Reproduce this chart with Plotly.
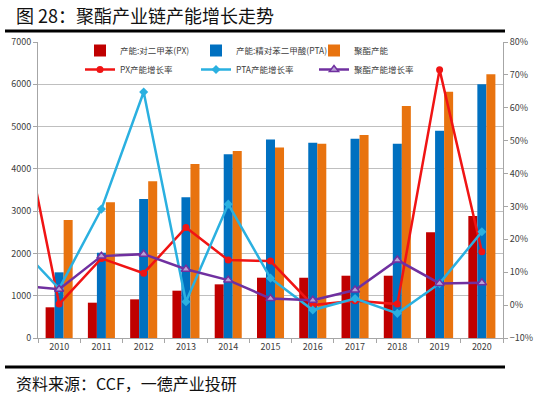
import plotly.graph_objects as go

years = [2010, 2011, 2012, 2013, 2014, 2015, 2016, 2017, 2018, 2019, 2020]
px_cap = [726, 835, 914, 1119, 1269, 1426, 1425, 1473, 1473, 2500, 2884]
pta_cap = [1553, 2017, 3286, 3326, 4343, 4697, 4617, 4712, 4593, 4900, 6000]
pet_cap = [2790, 3208, 3704, 4113, 4421, 4508, 4593, 4799, 5485, 5823, 6240]

# growth series include the preceding year (2009), partially visible at the left edge
growth_years = [2009] + years
px_growth = [0.64, 0.003, 0.142, 0.097, 0.236, 0.137, 0.134, 0.0, 0.013, 0.003, 0.716, 0.162]
pta_growth = [0.186, 0.05, 0.292, 0.648, 0.01, 0.307, 0.082, -0.015, 0.02, -0.025, 0.066, 0.223]
pet_growth = [0.06, 0.048, 0.149, 0.155, 0.109, 0.076, 0.02, 0.015, 0.046, 0.137, 0.066, 0.068]

names_bar = ["产能:对二甲苯(PX)", "产能:精对苯二甲酸(PTA)", "聚酯产能"]
names_line = ["PX产能增长率", "PTA产能增长率", "聚酯产能增长率"]

CJK = "Noto Sans CJK SC"
W, H = 547, 397
bar_colors = ["#C00000", "#0070C0", "#E8730F"]
legend_ids = ["legend", "legend2", "legend3"]

fig = go.Figure()
for name, vals, col, lg in zip(names_bar, [px_cap, pta_cap, pet_cap], bar_colors, legend_ids):
    fig.add_trace(go.Bar(x=years, y=vals, name=name, legend=lg, marker=dict(color=col, line=dict(width=0))))

fig.add_trace(go.Scatter(x=growth_years, y=px_growth, name=names_line[0], yaxis="y2", mode="lines+markers", legend="legend",
                         line=dict(color="#F01414", width=2.5), marker=dict(symbol="circle", size=7, color="#F01414")))
fig.add_trace(go.Scatter(x=growth_years, y=pta_growth, name=names_line[1], yaxis="y2", mode="lines+markers", legend="legend2",
                         line=dict(color="#2AB0E0", width=2.5), marker=dict(symbol="diamond", size=7, color="#2AB0E0")))
fig.add_trace(go.Scatter(x=growth_years, y=pet_growth, name=names_line[2], yaxis="y2", mode="lines+markers", legend="legend3",
                         line=dict(color="#7030A0", width=2.5),
                         marker=dict(symbol="triangle-up", size=8, color="#B9A2D6", line=dict(color="#7030A0", width=1.5))))

# decorative black rules above and below the chart, on a hidden full-page helper subplot
rule_rows = [31, 367]
rule_x, rule_y = [], []
for r in rule_rows:
    rule_x += [5, 505, None]
    rule_y += [r, r, None]
fig.add_trace(go.Scatter(x=rule_x, y=rule_y, xaxis="x2", yaxis="y3", mode="lines", showlegend=False,
                         hoverinfo="skip", line=dict(color="black", width=3)))

tickfont = dict(family=CJK, size=9, color="#404040")

def py(p):
    # pixel row (from top of page) -> paper y (margins are zero, so paper = page)
    return (H - p) / H

def px(p):
    return p / W

def legend_at(xpix):
    return dict(orientation="v", x=px(xpix), xanchor="left", y=py(36), yanchor="top",
                font=dict(family=CJK, size=8.5, color="#404040"), bgcolor="rgba(255,255,255,0)",
                tracegroupgap=0, itemwidth=30, traceorder="normal")

fig.update_layout(
    width=W, height=H,
    margin=dict(l=0, r=0, t=0, b=0, autoexpand=False),
    paper_bgcolor="white", plot_bgcolor="rgba(0,0,0,0)",
    barmode="group", bargap=0.36, bargroupgap=0,
    showlegend=True,
    legend=legend_at(80), legend2=legend_at(196), legend3=legend_at(314),
    xaxis=dict(domain=[px(38), px(503)], range=[2009.5, 2020.5], tickvals=years,
               ticktext=[str(y) for y in years], anchor="y",
               ticks="", showgrid=False, showline=True, linecolor="#A6A6A6", linewidth=1,
               tickfont=tickfont, zeroline=False,
               minor=dict(tick0=2009.5, dtick=1, ticks="outside", ticklen=4, tickcolor="#A6A6A6")),
    yaxis=dict(domain=[py(338), py(42)], range=[0, 7000], dtick=1000, anchor="x",
               showgrid=True, gridcolor="#BFBFBF", gridwidth=1,
               showline=True, linecolor="#A6A6A6", ticks="outside", ticklen=4, tickcolor="#A6A6A6",
               tickfont=tickfont, zeroline=False),
    yaxis2=dict(range=[-0.1, 0.8], dtick=0.1, tickformat=".0%", overlaying="y", side="right", anchor="x",
                showgrid=False, showline=True, linecolor="#A6A6A6", ticks="outside", ticklen=4,
                tickcolor="#A6A6A6", tickfont=tickfont, zeroline=False),
    xaxis2=dict(domain=[0, 1], range=[0, W], anchor="y3", visible=False, showgrid=False,
                zeroline=False, fixedrange=True),
    yaxis3=dict(domain=[0, 1], range=[H, 0], anchor="x2", visible=False, showgrid=False,
                zeroline=False, fixedrange=True),
    annotations=[
        dict(text="图 28：聚酯产业链产能增长走势", xref="paper", yref="paper", x=px(14), y=py(15),
             xanchor="left", yanchor="middle", showarrow=False,
             font=dict(family=CJK, size=18, color="#111111")),
        dict(text="资料来源：CCF，一德产业投研", xref="paper", yref="paper", x=px(14), y=py(383),
             xanchor="left", yanchor="middle", showarrow=False,
             font=dict(family=CJK, size=16, color="#111111")),
    ],
)

fig.write_html("out.html", config={"displayModeBar": False},
               post_script="document.body.style.margin='0';document.body.style.padding='0';")
